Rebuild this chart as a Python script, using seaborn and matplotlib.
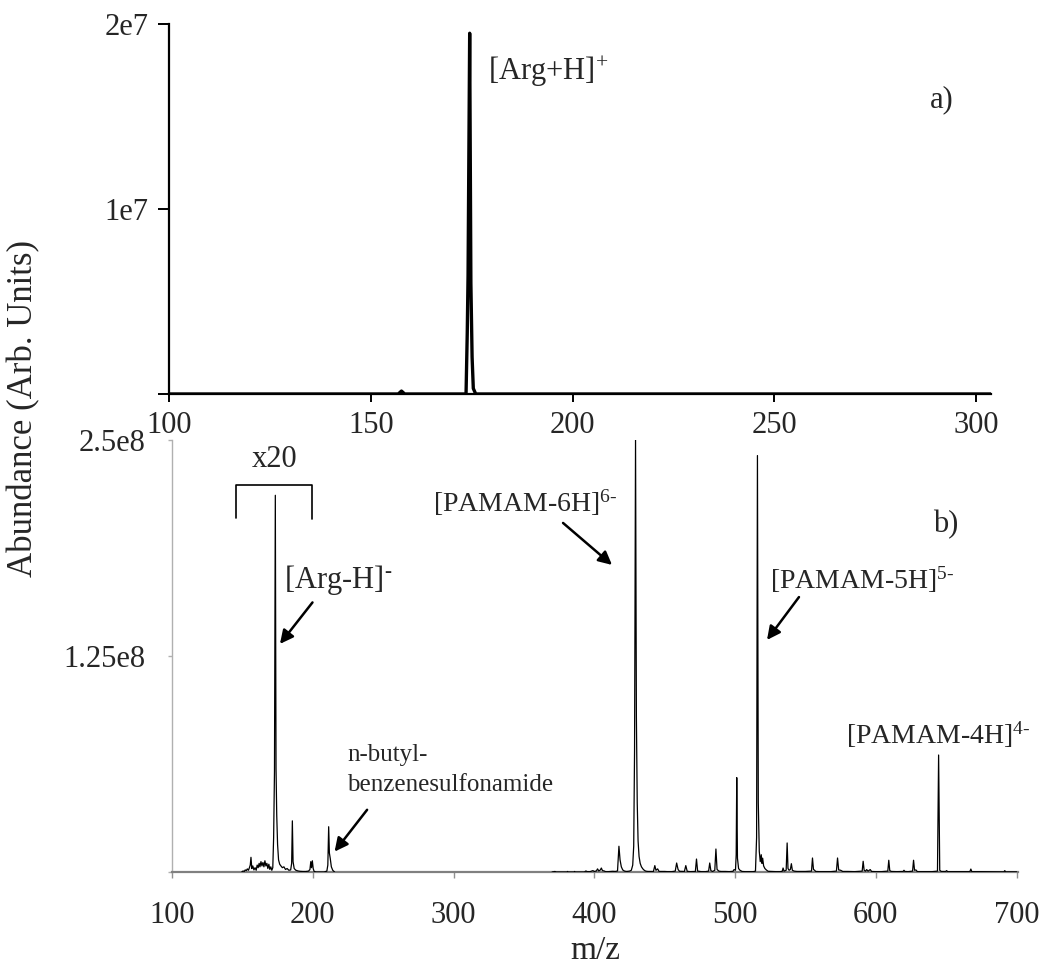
import numpy as np
import pandas as pd
import seaborn as sns
import matplotlib.pyplot as plt

# ---- data (intensities in units of 1e6) ----
# a) positive mode
top_mz = [100.0, 156.8, 157.6, 158.4, 173.6, 173.9, 174.1, 174.5, 174.8, 175.1, 175.4, 176.0, 303.6]
top_int = [0.0, 0.0, 0.16, 0.0, 0.0, 3.3, 6.4, 19.5, 6.0, 2.0, 0.3, 0.0, 0.0]

# b) negative mode, low mass part (shown x20)
low_mz = [149.5, 150.5, 151.3, 152.0, 152.8, 153.5, 154.3, 155.0, 155.6, 156.1,
          156.7, 157.4, 158.2, 159.0, 159.8, 160.5, 161.2, 161.9, 162.5, 163.2,
          163.9, 164.6, 165.3, 166.0, 166.7, 167.4, 168.1, 168.8, 169.5, 170.2,
          170.9, 171.6, 172.2, 172.8, 173.4, 173.9, 174.4, 175.0, 175.7, 176.5,
          177.4, 178.4, 179.5, 180.6, 181.8, 183.0, 184.3, 185.0, 185.5, 186.0,
          186.8, 188.0, 189.5, 191.0, 193.0, 195.0, 197.0, 198.0, 198.6, 199.1,
          199.7, 200.3, 201.0, 202.5, 205.0, 208.0, 210.0, 210.7, 211.3, 211.8,
          212.4, 213.2, 214.2, 215.5]
low_int = [0.0, 0.6, 0.3, 1.2, 0.8, 1.8, 1.0, 2.5, 4.0, 8.5,
           2.0, 3.5, 1.2, 2.5, 1.0, 4.0, 2.5, 5.0, 3.0, 6.0,
           3.5, 5.5, 3.0, 6.5, 3.5, 5.0, 2.0, 4.5, 1.5, 3.0,
           1.0, 2.5, 20.0, 58.0, 218.0, 60.0, 33.0, 16.0, 7.0, 4.5,
           3.5, 2.5, 3.0, 1.5, 2.0, 1.0, 1.2, 5.0, 29.6, 6.0,
           2.0, 1.0, 0.6, 0.4, 0.3, 0.3, 0.5, 1.5, 6.0, 2.5,
           6.5, 2.0, 0.3, 0.0, 0.0, 0.0, 0.5, 4.0, 26.2, 11.0,
           8.0, 3.0, 1.0, 0.0]

# b) negative mode, PAMAM region
high_mz = [370.0, 372.0, 373.0, 380.5, 381.0, 381.5, 385.5, 386.0, 386.5, 393.0,
           394.0, 395.0, 397.0, 399.0, 400.0, 401.5, 402.3, 403.2, 404.3, 405.0,
           405.8, 407.0, 408.0, 410.0, 413.0, 415.0, 416.5, 417.5, 418.3, 419.2,
           420.2, 421.5, 423.0, 425.0, 426.3, 427.3, 428.0, 428.6, 429.3, 429.9,
           430.5, 431.1, 431.8, 432.6, 433.5, 434.5, 435.5, 436.5, 438.0, 440.0,
           442.0, 443.0, 443.8, 445.0, 446.0, 448.0, 450.0, 452.0, 455.0, 457.5,
           458.5, 459.5, 460.5, 464.0, 465.0, 466.0, 468.0, 471.8, 472.6, 473.4,
           476.0, 479.0, 481.2, 482.0, 482.8, 484.0, 485.6, 486.4, 487.2, 488.5,
           490.0, 493.0, 496.0, 498.5, 499.3, 500.3, 500.8, 501.2, 501.7, 502.5,
           503.5, 505.0, 507.0, 510.0, 513.0, 514.5, 515.3, 515.9, 516.5, 517.2,
           517.9, 518.6, 519.1, 519.6, 520.3, 521.2, 522.2, 523.5, 526.0, 529.0,
           532.0, 533.5, 534.1, 534.8, 536.3, 537.0, 537.6, 538.4, 539.3, 540.0,
           540.7, 542.0, 544.0, 547.0, 550.0, 554.3, 555.0, 555.7, 556.5, 557.3,
           560.0, 564.0, 568.0, 572.0, 572.8, 573.6, 575.0, 576.5, 580.0, 585.0,
           590.3, 591.0, 591.7, 592.7, 593.5, 594.5, 596.0, 597.0, 600.0, 604.0,
           608.5, 609.2, 609.9, 611.0, 615.0, 619.4, 620.0, 620.6, 623.0, 626.1,
           626.8, 627.5, 628.5, 629.5, 635.0, 640.0, 643.8, 644.6, 645.4, 646.5,
           649.6, 650.3, 651.0, 655.0, 660.0, 666.8, 667.5, 668.2, 675.0, 685.0,
           691.0, 691.6, 692.2, 700.0]
high_int = [0.0, 0.3, 0.0, 0.0, 0.3, 0.0, 0.0, 0.3, 0.0, 0.0,
            0.6, 0.2, 0.2, 0.8, 0.3, 0.6, 1.8, 0.6, 1.2, 2.3,
            0.8, 0.6, 0.2, 0.2, 0.4, 0.3, 0.6, 14.9, 7.0, 3.0,
            1.2, 0.5, 0.3, 0.5, 1.0, 4.0, 15.0, 70.0, 250.0, 90.0,
            40.0, 18.0, 9.0, 5.0, 3.0, 1.8, 1.0, 0.5, 0.3, 0.3,
            0.3, 3.7, 1.0, 1.8, 0.3, 0.3, 0.3, 0.2, 0.2, 0.5,
            5.2, 1.5, 0.4, 0.3, 3.7, 0.4, 0.2, 0.3, 7.5, 0.5,
            0.2, 0.2, 0.5, 5.2, 0.8, 0.3, 1.0, 13.3, 1.5, 0.5,
            0.3, 0.3, 0.2, 0.4, 1.4, 1.0, 10.0, 54.6, 8.0, 2.0,
            1.0, 0.3, 0.2, 0.2, 0.2, 0.5, 20.0, 241.0, 40.0, 12.0,
            6.0, 10.0, 5.0, 8.0, 3.5, 2.0, 1.2, 0.4, 0.3, 0.2,
            0.2, 0.4, 2.3, 0.5, 1.0, 16.8, 2.0, 1.0, 1.5, 4.8,
            1.0, 0.5, 0.3, 0.3, 0.3, 0.5, 8.1, 1.5, 1.0, 0.3,
            0.2, 0.2, 0.2, 0.5, 8.1, 1.2, 1.0, 0.3, 0.3, 0.2,
            0.5, 6.2, 1.0, 0.5, 1.4, 0.5, 1.4, 0.3, 0.2, 0.2,
            0.5, 6.8, 0.8, 0.3, 0.2, 0.3, 1.0, 0.3, 0.2, 0.5,
            6.8, 1.0, 1.2, 0.2, 0.2, 0.2, 0.5, 67.7, 1.0, 0.3,
            0.3, 0.8, 0.2, 0.2, 0.2, 0.2, 1.7, 0.2, 0.2, 0.1,
            0.1, 0.8, 0.1, 0.1]

top_yticks = [0, 1e7, 2e7]
top_yticklabels = ["", "1e7", "2e7"]
bot_yticks = [0, 1.25e8, 2.5e8]
bot_yticklabels = ["", "1.25e8", "2.5e8"]
x20_lo, x20_hi = 145.7, 199.8

df_top = pd.DataFrame({"mz": top_mz, "I": np.array(top_int) * 1e6})
df_low = pd.DataFrame({"mz": low_mz, "I": np.array(low_int) * 1e6})
df_high = pd.DataFrame({"mz": high_mz, "I": np.array(high_int) * 1e6})

sns.set_style("ticks")
plt.rcParams["font.family"] = ["Liberation Serif", "DejaVu Serif"]
plt.rcParams["mathtext.fontset"] = "custom"
plt.rcParams["mathtext.rm"] = "Liberation Serif"
plt.rcParams["mathtext.it"] = "Liberation Serif:italic"
plt.rcParams["mathtext.bf"] = "Liberation Serif:bold"

W, H = 1050, 965
fig = plt.figure(figsize=(W / 100, H / 100), dpi=100)
ax1 = fig.add_axes([169 / W, 1 - 394 / H, (990.7 - 169) / W, (394 - 24) / H])
ax2 = fig.add_axes([172 / W, 1 - 872 / H, (1018 - 172) / W, (872 - 440) / H])

# ---- panel a ----
sns.lineplot(data=df_top, x="mz", y="I", ax=ax1, sort=False, estimator=None,
             color="black", lw=2.4, zorder=3)
ax1.set_xlim(100, 303.6)
ax1.set_ylim(0, 2e7)
ax1.set_xticks([100, 150, 200, 250, 300])
ax1.set_yticks(top_yticks)
ax1.set_yticklabels(top_yticklabels)
ax1.set_xlabel("")
ax1.set_ylabel("")
sns.despine(ax=ax1)
for s in ["left", "bottom"]:
    ax1.spines[s].set_linewidth(1.6)
    ax1.spines[s].set_color("black")
ax1.tick_params(axis="x", length=6, width=1.4, pad=6, labelsize=22, color="black")
ax1.tick_params(axis="y", length=8, width=1.4, pad=7, labelsize=22, color="black")
ax1.text(179.0, 1.74e7, "[Arg+H]$^{+}$", fontsize=22, va="center", ha="left")
ax1.text(288.5, 1.59e7, "a)", fontsize=22, va="center", ha="left")

# ---- panel b ----
for d in (df_low, df_high):
    sns.lineplot(data=d, x="mz", y="I", ax=ax2, sort=False, estimator=None,
                 color="black", lw=0.9, zorder=3)
ax2.set_xlim(100, 701)
ax2.set_ylim(0, 2.5e8)
ax2.set_xticks([100, 200, 300, 400, 500, 600, 700])
ax2.set_yticks(bot_yticks)
ax2.set_yticklabels(bot_yticklabels)
ax2.set_ylabel("")
sns.despine(ax=ax2)
ax2.spines["left"].set_color("#b0b0b0")
ax2.spines["left"].set_linewidth(1.0)
ax2.spines["bottom"].set_color("#808080")
ax2.spines["bottom"].set_linewidth(1.6)
ax2.tick_params(axis="x", length=4, width=1, pad=17, labelsize=22, color="#909090")
ax2.tick_params(axis="y", length=3, width=1, pad=16, labelsize=22, color="#b0b0b0")
ax2.set_xlabel("m/z", fontsize=24)
ax2.xaxis.set_label_coords(0.5, -0.148)

# x20 bracket over the low mass region
ax2.plot([x20_lo, x20_lo, x20_hi, x20_hi], [2.05e8, 2.24e8, 2.24e8, 2.04e8],
         color="black", lw=1.2)
ax2.text((x20_lo + x20_hi) / 2, 2.39e8, "x20", fontsize=22, ha="center", va="center")

arrow = dict(arrowstyle="-|>", color="black", lw=1.8, mutation_scale=20,
             shrinkA=0, shrinkB=0)
ax2.text(179.8, 1.69e8, r"[Arg-H]$^{\text{-}}$", fontsize=22, ha="left", va="center")
ax2.annotate("", xy=(176.7, 1.32e8), xytext=(199.8, 1.56e8), arrowprops=arrow)

ax2.text(224.3, 6.76e7, "n-butyl-", fontsize=18, ha="left", va="center")
ax2.text(224.3, 5.03e7, "benzenesulfonamide", fontsize=18, ha="left", va="center")
ax2.annotate("", xy=(215.5, 1.18e7), xytext=(238.6, 3.6e7), arrowprops=arrow)

ax2.text(285.4, 2.135e8, r"[PAMAM-6H]$^{\text{6-}}$", fontsize=20, ha="left", va="center")
ax2.annotate("", xy=(412.6, 1.777e8), xytext=(377.8, 2.02e8), arrowprops=arrow)

ax2.text(524.8, 1.69e8, r"[PAMAM-5H]$^{\text{5-}}$", fontsize=20, ha="left", va="center")
ax2.annotate("", xy=(522.7, 1.343e8), xytext=(545.4, 1.591e8), arrowprops=arrow)

ax2.text(578.8, 7.93e7, r"[PAMAM-4H]$^{\text{4-}}$", fontsize=20, ha="left", va="center")
ax2.text(640.6, 2.008e8, "b)", fontsize=22, ha="left", va="center")

fig.text(24 / W, 1 - 408 / H, "Abundance (Arb. Units)", rotation=90,
         fontsize=25, ha="center", va="center")

fig.savefig("out.png", dpi=100)
